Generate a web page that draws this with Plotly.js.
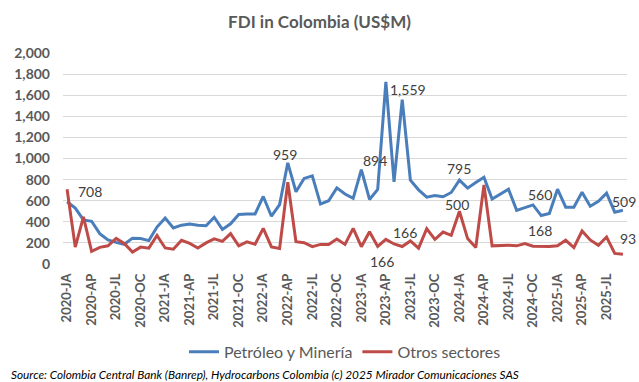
<!DOCTYPE html>
<html>
<head>
<meta charset="utf-8">
<script src="https://cdn.plot.ly/plotly-3.0.1.min.js"></script>
<style>html,body{margin:0;padding:0;background:#fff;}#chart{width:639px;height:382px;}</style>
</head>
<body>
<div id="chart"></div>
<script>
const years = ["2020","2021","2022","2023","2024","2025"];
const monthCodes = ["JA","FE","MR","AP","MY","JN","JL","AG","SE","OC","NO","DE"];
const lastMonthIndex2025 = 8; // series ends 2025-SE

const petroleoMineria = [
  590,530,418,405,288,228,205,187,245,242,222,350,
  435,342,368,380,368,362,443,328,381,469,475,475,
  640,453,563,959,685,811,836,568,600,722,663,622,
  894,612,707,1726,779,1559,795,703,634,650,637,678,
  795,719,772,822,616,663,709,509,531,560,459,478,
  709,538,538,681,547,594,672,491,509
];
const otrosSectores = [
  708,160,447,120,158,172,242,195,113,160,150,270,
  152,140,225,195,152,200,238,215,288,172,210,188,
  338,162,147,775,211,202,164,186,186,237,186,338,
  164,306,166,233,190,166,219,150,334,234,303,272,
  500,241,156,750,172,178,178,172,194,168,166,166,
  172,225,156,313,228,178,256,100,93
];

// point labels: [series, category index, text, xshift, yshift]
const pointLabels = [
  ["otros", 0, "708", 23, -2],
  ["petro", 27, "959", -3, 8],
  ["petro", 36, "894", 14, 9],
  ["petro", 41, "1,559", 6, 10],
  ["otros", 38, "166", 4, -15],
  ["otros", 41, "166", 3, 14],
  ["petro", 48, "795", 0, 12],
  ["otros", 48, "500", -2, 7],
  ["petro", 57, "560", 7, 10],
  ["otros", 57, "168", 7, 16],
  ["petro", 68, "509", 1, 9],
  ["otros", 68, "93", 5, 16]
];

const categories = [];
years.forEach((y, yi) => {
  monthCodes.forEach((m, mi) => {
    if (yi === years.length - 1 && mi > lastMonthIndex2025) return;
    categories.push(y + "-" + m);
  });
});
const tickCats = categories.filter((c, i) => i % 3 === 0);

const FONT = "Lato, 'Open Sans', sans-serif";
const GRAY = "#595959";

const traces = [
  {x: categories, y: petroleoMineria, type: "scatter", mode: "lines", name: "Petróleo y Minería",
   line: {color: "#4A7EBB", width: 3}},
  {x: categories, y: otrosSectores, type: "scatter", mode: "lines", name: "Otros sectores",
   line: {color: "#BE4B48", width: 3}}
];

const annotations = pointLabels.map(([s, i, t, xs, ys]) => ({
  x: categories[i], y: (s === "petro" ? petroleoMineria : otrosSectores)[i],
  xref: "x", yref: "y", text: t, showarrow: false, xshift: xs, yshift: ys,
  font: {family: FONT, size: 14, color: "#404040"}, xanchor: "center", yanchor: "middle"
}));
annotations.push({
  xref: "paper", yref: "paper", x: -0.095, y: -0.525, xanchor: "left", yanchor: "middle",
  text: "<i>Source: Colombia Central Bank (Banrep), Hydrocarbons Colombia (c) 2025 Mirador Comunicaciones SAS</i>",
  showarrow: false, font: {family: FONT, size: 11.8, color: "#000"}
});

const layout = {
  width: 639, height: 382,
  margin: {l: 63, r: 12, t: 53, b: 118},
  paper_bgcolor: "#fff", plot_bgcolor: "#fff",
  title: {text: "<b>FDI in Colombia (US$M)</b>", x: 0.5, xanchor: "center", y: 0.942, yanchor: "middle",
          font: {family: FONT, size: 17, color: GRAY}},
  xaxis: {type: "category", tickmode: "array", tickvals: tickCats, ticktext: tickCats,
          tickangle: -90, showgrid: false, showline: false, zeroline: false, ticks: "",
          ticklabelstandoff: 6,
          tickfont: {family: FONT, size: 13, color: GRAY, weight: "bold"},
          range: [-0.5, categories.length - 0.5]},
  yaxis: {range: [0, 2000], dtick: 200, tickformat: ",", showgrid: true, gridcolor: "#D9D9D9",
          gridwidth: 1, zeroline: false, showline: false, ticks: "", ticklabelstandoff: 12,
          tickfont: {family: FONT, size: 14, color: GRAY, weight: "bold"}},
  showlegend: true,
  legend: {orientation: "h", x: 0.5, xanchor: "center", y: -0.416, yanchor: "middle",
           font: {family: FONT, size: 16, color: GRAY}, itemwidth: 30, tracegroupgap: 0},
  annotations: annotations
};

Plotly.newPlot("chart", traces, layout, {displayModeBar: false, staticPlot: true});
</script>
</body>
</html>
